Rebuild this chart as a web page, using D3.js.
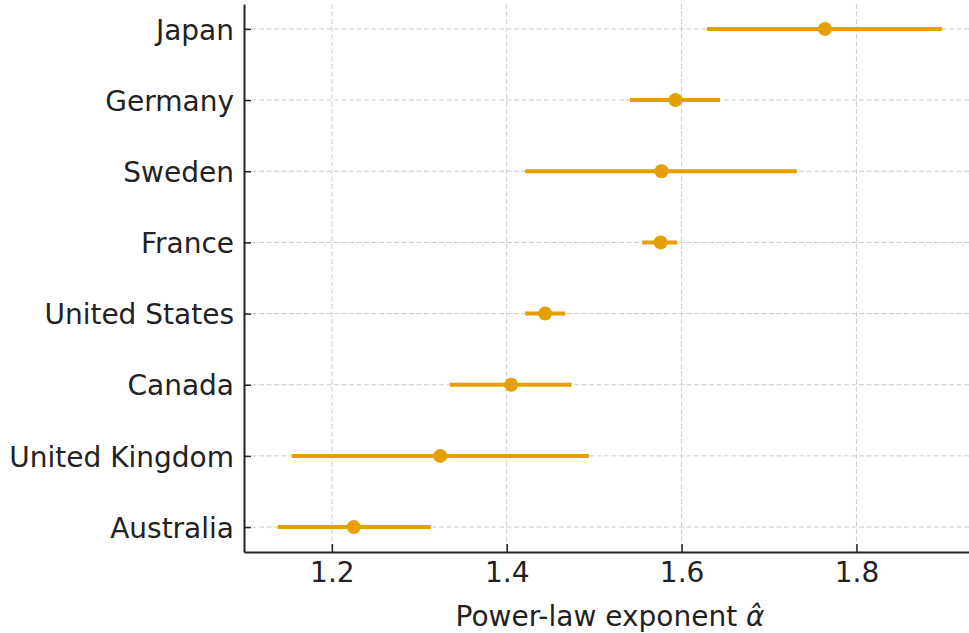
<!DOCTYPE html>
<html>
<head>
<meta charset="utf-8">
<script src="https://cdn.jsdelivr.net/npm/d3@7"></script>
<style>
  body { margin: 0; background: #fff; }
  svg { display: block; font-family: "DejaVu Sans", sans-serif; }
</style>
</head>
<body>
<div id="chart"></div>
<script>
// countries from top to bottom
var countries = ["Japan", "Germany", "Sweden", "France", "United States", "Canada", "United Kingdom", "Australia"];
var alphaHat = [1.764, 1.593, 1.577, 1.576, 1.444, 1.405, 1.324, 1.225];
var ciLow    = [1.629, 1.541, 1.421, 1.555, 1.421, 1.335, 1.154, 1.138];
var ciHigh   = [1.898, 1.644, 1.732, 1.595, 1.467, 1.474, 1.494, 1.313];
var xTicks = [1.2, 1.4, 1.6, 1.8];

var width = 969, height = 633;
var margin = {top: 4, right: -6, bottom: 81, left: 244};

var data = countries.map(function(c, i) {
    return {name: c, a: alphaHat[i], lo: ciLow[i], hi: ciHigh[i]};
});

var svg = d3.select("#chart")
    .append("svg")
    .attr("width", width)
    .attr("height", height);

var x = d3.scaleLinear()
    .domain([1.0995, 1.9356])
    .range([margin.left, width - margin.right]);

var y = d3.scalePoint()
    .domain(countries)
    .range([margin.top, height - margin.bottom])
    .padding(0.35);

var orange = "#E69F00";
var grid = svg.append("g").attr("class", "grid");

grid.selectAll(".vgrid")
    .data(xTicks)
    .enter().append("line")
    .attr("x1", d => x(d)).attr("x2", d => x(d))
    .attr("y1", margin.top).attr("y2", height - margin.bottom)
    .attr("stroke", "#cbcbcb")
    .attr("stroke-width", 1)
    .attr("stroke-dasharray", "5,2.5");

grid.selectAll(".hgrid")
    .data(countries)
    .enter().append("line")
    .attr("x1", margin.left).attr("x2", width)
    .attr("y1", d => y(d)).attr("y2", d => y(d))
    .attr("stroke", "#cbcbcb")
    .attr("stroke-width", 1)
    .attr("stroke-dasharray", "5,2.5");

// error bars
svg.selectAll(".err")
    .data(data)
    .enter().append("line")
    .attr("class", "err")
    .attr("x1", d => x(d.lo)).attr("x2", d => x(d.hi))
    .attr("y1", d => y(d.name)).attr("y2", d => y(d.name))
    .attr("stroke", orange)
    .attr("stroke-width", 4);

svg.selectAll(".dot")
    .data(data)
    .enter().append("circle")
    .attr("class", "dot")
    .attr("cx", d => x(d.a))
    .attr("cy", d => y(d.name))
    .attr("r", 7)
    .attr("fill", orange);

// axes
var xAxis = d3.axisBottom(x).tickValues(xTicks).tickFormat(d3.format(".1f"))
    .tickSizeInner(-8).tickSizeOuter(0).tickPadding(10);
var yAxis = d3.axisLeft(y).tickSizeInner(-7).tickSizeOuter(0).tickPadding(10);

var gx = svg.append("g")
    .attr("transform", "translate(0," + (height - margin.bottom) + ")")
    .call(xAxis);
var gy = svg.append("g")
    .attr("transform", "translate(" + margin.left + ",0)")
    .call(yAxis);

gx.select(".domain").attr("stroke", "#222").attr("stroke-width", 2);
gy.select(".domain").attr("stroke", "#222").attr("stroke-width", 2);
svg.selectAll(".tick line").attr("stroke", "#222").attr("stroke-width", 1.5);
gx.selectAll(".tick text").attr("font-size", 28).attr("fill", "#222")
    .attr("font-family", "DejaVu Sans");
gy.selectAll(".tick text").attr("font-size", 28).attr("fill", "#222")
    .attr("font-family", "DejaVu Sans").attr("dy", "0.36em");

var label = svg.append("text")
    .attr("x", 610)
    .attr("y", 626)
    .attr("text-anchor", "middle")
    .attr("font-size", 28)
    .attr("fill", "#222");
label.append("tspan").text("Power-law exponent ");
label.append("tspan").attr("font-style", "italic").text("\u03B1\u0302");
</script>
</body>
</html>
